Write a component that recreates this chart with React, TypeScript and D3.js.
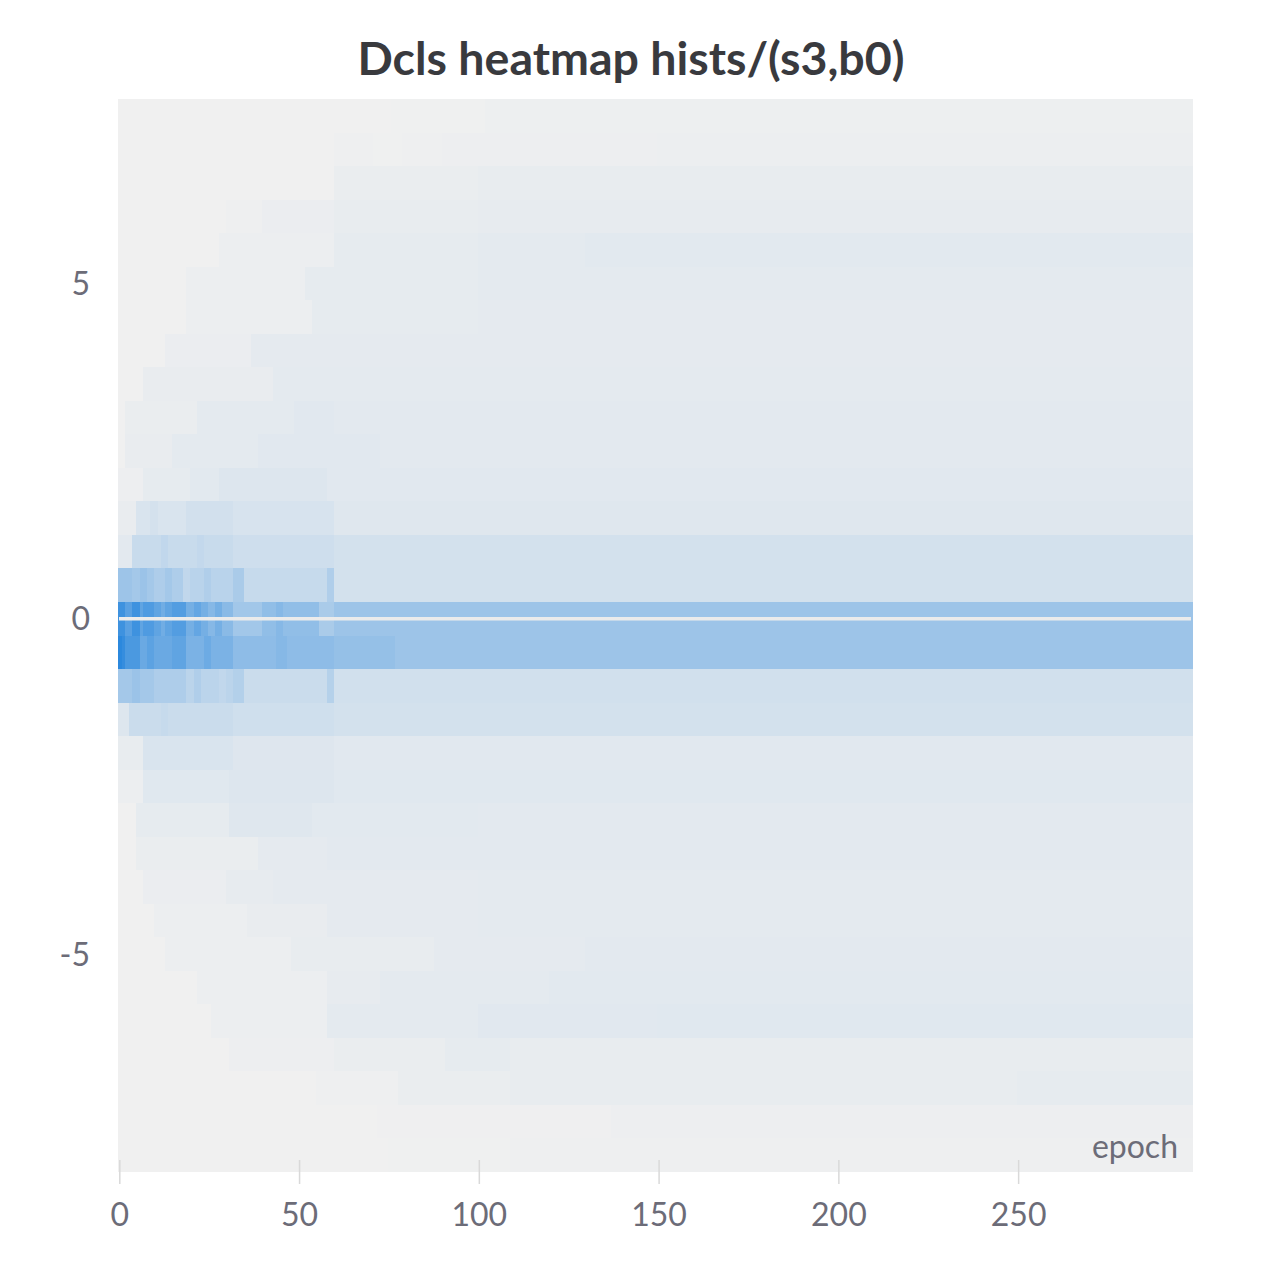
import React from "react";
import * as d3 from "d3";

// ---- data ----
const title = "Dcls heatmap hists/(s3,b0)";
const xLabel = "epoch";
const epochCount = 299; // epochs 0..298
const binCenters = [
  7.5, 7, 6.5, 6, 5.5, 5, 4.5, 4, 3.5, 3, 2.5, 2, 1.5, 1, 0.5, 0,
  -0.5, -1, -1.5, -2, -2.5, -3, -3.5, -4, -4.5, -5, -5.5, -6, -6.5, -7, -7.5, -8,
];
const binWidth = 0.5;
const xTicks = [0, 50, 100, 150, 200, 250];
const yTicks = [5, 0, -5];

// density per bin: list of [fromEpoch, density] (density in 0..1)
const rowSegments: [number, number][][] = [
  [[0, 0], [76, 0.004], [102, 0.012]], // 7.5
  [[0, 0], [59.5, 0.009], [70.5, 0.003], [79, 0.01], [90, 0.015], [150, 0.019]], // 7
  [[0, 0], [59.5, 0.028], [99.5, 0.04]], // 6.5
  [[0, 0], [30, 0.009], [40, 0.024], [59.5, 0.038], [100, 0.042]], // 6
  [[0, 0], [27.5, 0.019], [59.5, 0.047], [99.5, 0.058], [130, 0.066]], // 5.5
  [[0, 0], [18.5, 0.019], [52, 0.047], [100, 0.057]], // 5
  [[0, 0], [18.5, 0.019], [54, 0.047], [100, 0.052]], // 4.5
  [[0, 0], [12.5, 0.024], [37, 0.052]], // 4
  [[0, 0], [7, 0.033], [43, 0.057]], // 3.5
  [[0, 0], [1.5, 0.028], [22, 0.057], [49, 0.071], [59.5, 0.061]], // 3
  [[0, 0], [1.5, 0.035], [15, 0.055], [39, 0.071], [73, 0.061]], // 2.5
  [[0, 0.015], [6.5, 0.045], [19.5, 0.065], [27.5, 0.09], [57.5, 0.071]], // 2
  [[0, 0.035], [5, 0.11], [19, 0.14], [32, 0.12], [59.5, 0.082]], // 1.5
  [[0, 0.06], [3.5, 0.19], [31.5, 0.16], [59.5, 0.137]], // 1
  [[0, 0.39], [3.5, 0.36], [10, 0.31], [17.5, 0.26], [31.5, 0.33], [34.5, 0.2], [57.5, 0.3], [59.5, 0.137]], // 0.5
  [[0, 0.84], [1.5, 0.71], [3.5, 0.84], [5.5, 0.68], [18.5, 0.58], [31.5, 0.37], [39.5, 0.45], [55.5, 0.33], [59.5, 0.39]], // 0
  [[0, 0.93], [1.5, 0.78], [5.5, 0.63], [18.5, 0.55], [31.5, 0.46], [59.5, 0.43], [77, 0.39]], // -0.5
  [[0, 0.36], [9.5, 0.31], [18.5, 0.25], [31.5, 0.29], [34.5, 0.18], [57.5, 0.28], [59.5, 0.145]], // -1
  [[0, 0.09], [2.5, 0.18], [31.5, 0.155], [59.5, 0.137]], // -1.5
  [[0, 0.04], [6.5, 0.11], [31.5, 0.085], [59.5, 0.071]], // -2
  [[0, 0.02], [6.5, 0.075], [30.5, 0.09], [59.5, 0.075]], // -2.5
  [[0, 0], [4.5, 0.045], [30.5, 0.08], [54, 0.066], [100, 0.061]], // -3
  [[0, 0], [4.5, 0.028], [39, 0.05], [57.5, 0.061]], // -3.5
  [[0, 0], [6.5, 0.024], [30, 0.042], [42.5, 0.052], [100, 0.057]], // -4
  [[0, 0], [9.5, 0.019], [36, 0.033], [57.5, 0.052], [100, 0.057]], // -4.5
  [[0, 0], [12.5, 0.019], [48, 0.038], [88, 0.05], [130, 0.06]], // -5
  [[0, 0], [21.5, 0.019], [57.5, 0.042], [73, 0.055], [120, 0.066]], // -5.5
  [[0, 0], [26, 0.019], [57.5, 0.057], [100, 0.07], [150, 0.075]], // -6
  [[0, 0], [30.5, 0.014], [59.5, 0.028], [91, 0.047], [109, 0.038]], // -6.5
  [[0, 0], [55, 0.009], [78, 0.028], [109, 0.038], [250, 0.045]], // -7
  [[0, 0], [72, 0.005], [137, 0.014]], // -7.5
  [[0, 0], [75, 0.004], [109, 0.009]], // -8
];

// narrow column stripes: [binCenter, fromEpoch, toEpoch, density]
const stripes: [number, number, number, number][] = [
  [0, 7, 9, 0.76],
  [0, 12, 12, 0.6],
  [0, 15, 18, 0.74],
  [0, 21, 22, 0.66],
  [0, 25, 26, 0.5],
  [0, 29, 31, 0.48],
  [0, 44, 45, 0.5],
  [-0.5, 1, 1, 0.88],
  [-0.5, 8, 9, 0.7],
  [-0.5, 15, 18, 0.68],
  [-0.5, 24, 25, 0.62],
  [-0.5, 44, 46, 0.5],
  [0.5, 6, 7, 0.4],
  [0.5, 13, 14, 0.36],
  [0.5, 18, 19, 0.22],
  [0.5, 24, 25, 0.3],
  [1, 12, 13, 0.22],
  [1, 22, 23, 0.21],
  [-1, 4, 5, 0.4],
  [-1, 21, 22, 0.3],
  [-1, 28, 29, 0.22],
  [-1.5, 12, 13, 0.2],
  [1.5, 9, 10, 0.13],
];

// ---- layout ----
const W = 1264;
const H = 1264;
const plotLeft = 118;
const plotRight = 1193;
const plotTop = 99;
const plotBottom = 1172;
const FONT = "Lato, 'Source Sans Pro', 'Open Sans', sans-serif";
const TEXT_COLOR = "#6c6c78";

function densityAt(binIdx: number, epoch: number): number {
  const c = binCenters[binIdx];
  for (const s of stripes) {
    if (s[0] === c && epoch >= s[1] && epoch <= s[2]) return s[3];
  }
  const segs = rowSegments[binIdx];
  let v = 0;
  for (const [from, d] of segs) {
    if (epoch >= from) v = d;
  }
  return v;
}

export default function App() {
  const x = d3.scaleLinear().domain([-0.5, epochCount - 0.5]).range([plotLeft, plotRight]);
  const yMax = d3.max(binCenters)! + binWidth / 2;
  const yMin = d3.min(binCenters)! - binWidth / 2;
  const y = d3.scaleLinear().domain([yMax, yMin]).range([plotTop, plotBottom]);
  const color = d3
    .scaleLinear<string>()
    .domain([0, 1])
    .range(["#f0f0f0", "#1c80dc"])
    .interpolate(d3.interpolateRgb);

  const epochs = d3.range(epochCount);
  const rects: { x0: number; x1: number; c: number; v: number; key: string }[] = [];
  binCenters.forEach((c, bi) => {
    let start = 0;
    let cur = densityAt(bi, 0);
    for (let i = 1; i <= epochs.length; i++) {
      const v = i < epochs.length ? densityAt(bi, epochs[i]) : NaN;
      if (v !== cur) {
        rects.push({ x0: start, x1: epochs[i - 1], c, v: cur, key: `${bi}-${start}` });
        start = i;
        cur = v;
      }
    }
  });

  return (
    <svg
      width={W}
      height={H}
      style={{ position: "absolute", left: 0, top: 0, background: "#fff" }}
    >
      <text
        x={631}
        y={75}
        textAnchor="middle"
        fontFamily={FONT}
        fontWeight={700}
        fontSize={46.5}
        fill="#393a3e"
      >
        {title}
      </text>
      <rect x={plotLeft} y={plotTop} width={plotRight - plotLeft} height={plotBottom - plotTop} fill="#f0f0f0" />
      <g shapeRendering="crispEdges">
        {rects.map((r) => (
          <rect
            key={r.key}
            x={x(r.x0 - 0.5)}
            width={x(r.x1 + 0.5) - x(r.x0 - 0.5)}
            y={y(r.c + binWidth / 2)}
            height={y(r.c - binWidth / 2) - y(r.c + binWidth / 2)}
            fill={color(r.v)}
          />
        ))}
      </g>
      <line
        x1={x(-0.5) + 1}
        x2={x(epochCount - 0.5) - 2}
        y1={y(0)}
        y2={y(0)}
        stroke="#ebebeb"
        strokeWidth={3.5}
      />
      {xTicks.map((t) => (
        <g key={t}>
          <line x1={x(t)} x2={x(t)} y1={1160} y2={1184} stroke="#d9d9d9" strokeWidth={1.5} />
          <text
            x={x(t)}
            y={1226}
            textAnchor="middle"
            fontFamily={FONT}
            fontSize={32}
            fill={TEXT_COLOR}
          >
            {t}
          </text>
        </g>
      ))}
      {yTicks.map((t) => (
        <text
          key={t}
          x={90}
          y={y(t)}
          dy="0.36em"
          textAnchor="end"
          fontFamily={FONT}
          fontSize={32}
          fill={TEXT_COLOR}
        >
          {t}
        </text>
      ))}
      <text
        x={1178}
        y={1158}
        textAnchor="end"
        fontFamily={FONT}
        fontSize={32}
        fill={TEXT_COLOR}
      >
        {xLabel}
      </text>
    </svg>
  );
}
